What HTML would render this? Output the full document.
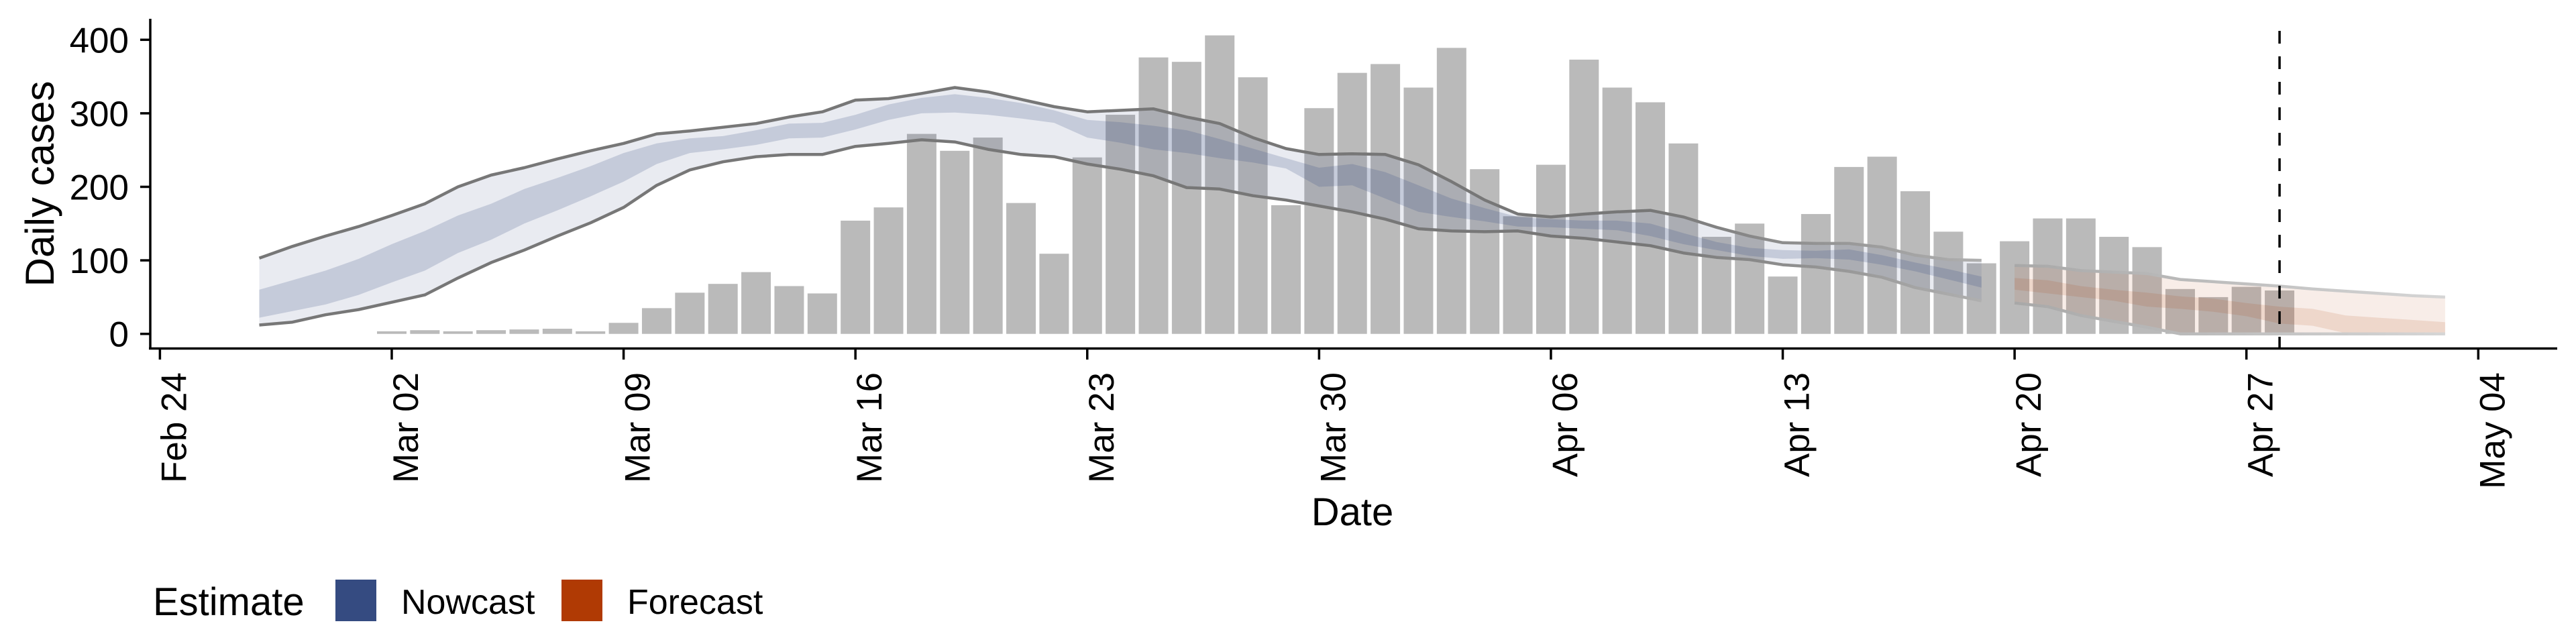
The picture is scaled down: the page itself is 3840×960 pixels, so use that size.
<!DOCTYPE html>
<html><head><meta charset="utf-8"><style>
html,body{margin:0;padding:0;background:#fff;}
svg{display:block;font-family:"Liberation Sans",Arial,sans-serif;}
</style></head><body>
<svg id="chart" width="3840" height="960" viewBox="0 0 3840 960">
<defs>
<linearGradient id="nowLine" gradientUnits="userSpaceOnUse" x1="2460" y1="0" x2="2960" y2="0">
<stop offset="0" stop-color="#777"/><stop offset="1" stop-color="#b0b0b0"/></linearGradient>
<linearGradient id="foreLine" gradientUnits="userSpaceOnUse" x1="3000" y1="0" x2="3650" y2="0">
<stop offset="0" stop-color="#a8a8a8"/><stop offset="1" stop-color="#d6d6d6"/></linearGradient>
</defs>
<g id="bars"></g>
<g id="bands"></g>
<g id="axes"></g>
<g>
<text x="228" y="917" font-size="58">Estimate</text>
<rect x="500" y="864" width="61" height="62" fill="#354B81"/>
<text x="598" y="915" font-size="52">Nowcast</text>
<rect x="837" y="864" width="61" height="62" fill="#B03A04"/>
<text x="935" y="915" font-size="52">Forecast</text>
</g>
</svg>
<script>
// ---- data ----
const barStart = "2020-03-02";
const barValues = [3.5,5,3.5,5,6,7,3.5,15,35,56,68,84,65,55,154,
 172,272,249,267,178,109,240,298,376,370,406,349,175,307,355,
 367,335,389,224,160,230,373,335,315,259,132,150,78,163,227,
 241,194,139,96,126,157,157,132,118,61,50,64,59];
const nowStart = "2020-02-27";
const nowUpper = [103,119,133,146,161,177,200,216,226,238,249,259,272,276,281,286,295,302,318,320,327,
 335,329,319,309,302,304,306,295,286,267,252,244,245,244,230,207,182,163,159,163,166,168,159,145,133,124,
 123,123,118,107,101,100];
const nowLower = [12,16,26,33,43,53,76,97,114,133,151,172,202,223,234,241,244,244,255,259,264,
 261,251,244,241,231,224,215,199,197,188,182,174,166,156,143,140,139,140,133,130,125,120,110,104,101,94,
 91,85,77,63,54,45];
const nowInnerUpper = [60,73,86,102,122,140,161,177,197,212,228,246,259,266,269,277,286,287,298,312,321,
 326,321,314,304,291,288,283,277,265,252,239,226,231,220,202,184,171,159,156,154,154,150,137,125,117,114,
 113,115,107,97,88,78];
const nowInnerLower = [22,31,40,53,70,86,110,128,150,168,187,207,231,246,251,257,266,267,278,291,300,
 301,298,293,287,267,260,251,246,239,233,225,200,202,184,166,159,153,146,145,143,141,133,122,114,106,102,
 103,101,94,85,74,63];
const foreStart = "2020-04-20";
const foreUpper = [93,92,86,84,82,74,71,68,65,61,58,55,52,50];
const foreLower = [42,37,25,17,9,0,0,0,0,0,0,0,0,0];
const foreInnerUpper = [76,73,65,60,56,51,48,42,37,34,25,22,19,16];
const foreInnerLower = [60,55,50,45,37,34,30,24,14,11,1,0,0,0];
const yTicks = [0,100,200,300,400];
const xTickDates = ["2020-02-24","2020-03-02","2020-03-09","2020-03-16","2020-03-23","2020-03-30","2020-04-06","2020-04-13","2020-04-20","2020-04-27","2020-05-04"];
const xTickLabels = ["Feb 24","Mar 02","Mar 09","Mar 16","Mar 23","Mar 30","Apr 06","Apr 13","Apr 20","Apr 27","May 04"];
const forecastDate = "2020-04-28";

// ---- scales ----
const NS = "http://www.w3.org/2000/svg";
const DAY = 86400000, T0 = Date.UTC(2020,1,24);
function dayOf(s){const p=s.split("-");return (Date.UTC(+p[0],+p[1]-1,+p[2])-T0)/DAY;}
function xS(d){return 238.4 + d*49.37;}
function yS(v){return 497.7 - v*1.096;}
function mk(tag, attrs, parent){const e=document.createElementNS(NS,tag);for(const k in attrs)e.setAttribute(k,attrs[k]);parent.appendChild(e);return e;}

const gBars=document.getElementById("bars"), gBands=document.getElementById("bands"), gAx=document.getElementById("axes");
const b0 = dayOf(barStart);
barValues.forEach((v,i)=>{
  const cx=xS(b0+i), w=44;
  const r=mk("rect",{x:cx-w/2,y:yS(v),width:w,height:yS(0)-yS(v),fill:"#bababa"},gBars);
  
  
});

function ribbon(start, up, lo, fill, op, name){
  const d0=dayOf(start);
  let p="M"+up.map((v,i)=>xS(d0+i).toFixed(1)+","+yS(v).toFixed(1)).join("L");
  for(let i=lo.length-1;i>=0;i--) p+="L"+xS(d0+i).toFixed(1)+","+yS(lo[i]).toFixed(1);
  const e=mk("path",{d:p+"Z",fill:fill,"fill-opacity":op},gBands);
  
  
}
function line(start, vals, stroke, name){
  const d0=dayOf(start);
  const e=mk("path",{d:"M"+vals.map((v,i)=>xS(d0+i).toFixed(1)+","+yS(v).toFixed(1)).join("L"),fill:"none",stroke:stroke,"stroke-width":4.5,"stroke-linejoin":"round"},gBands);
  
  
}
ribbon(nowStart,nowUpper,nowLower,"#354B81",0.11,"nowcast-outer-band");
ribbon(nowStart,nowInnerUpper,nowInnerLower,"#354B81",0.2,"nowcast-inner-band");
line(nowStart,nowUpper,"url(#nowLine)","nowcast-upper-line");
line(nowStart,nowLower,"url(#nowLine)","nowcast-lower-line");
ribbon(foreStart,foreUpper,foreLower,"#B03A04",0.09,"forecast-outer-band");
ribbon(foreStart,foreInnerUpper,foreInnerLower,"#B03A04",0.12,"forecast-inner-band");
line(foreStart,foreUpper,"url(#foreLine)","forecast-upper-line");
line(foreStart,foreLower,"url(#foreLine)","forecast-lower-line");

// dashed forecast line
const fx=xS(dayOf(forecastDate));
const dl=mk("line",{x1:fx,y1:46,x2:fx,y2:519,stroke:"#000","stroke-width":3.5,"stroke-dasharray":"19 19"},gAx);



// axes
const ya=mk("line",{x1:224,y1:28,x2:224,y2:521,stroke:"#000","stroke-width":3.5},gAx);


const xa=mk("line",{x1:222,y1:519.5,x2:3812,y2:519.5,stroke:"#000","stroke-width":3.5},gAx);


yTicks.forEach(v=>{
  const t=mk("line",{x1:209,y1:yS(v),x2:224,y2:yS(v),stroke:"#000","stroke-width":3.5},gAx);
  
  
  const l=mk("text",{x:192,y:yS(v)+19,"font-size":53,"text-anchor":"end",fill:"#000"},gAx);
  l.textContent=String(v);
  
  
});
xTickDates.forEach((s,i)=>{
  const x=xS(dayOf(s));
  const t=mk("line",{x1:x,y1:520,x2:x,y2:536,stroke:"#000","stroke-width":3.5},gAx);
  
  
  const l=mk("text",{x:0,y:0,"font-size":53,"text-anchor":"end",fill:"#000",transform:"translate("+(x+39)+",555) rotate(-90)"},gAx);
  l.textContent=xTickLabels[i];
  
  
});
const xt=mk("text",{x:2016,y:783,"font-size":58,"text-anchor":"middle",fill:"#000"},gAx);
xt.textContent="Date";


const yt=mk("text",{x:0,y:0,"font-size":60,"text-anchor":"middle",fill:"#000",transform:"translate(80,274) rotate(-90)"},gAx);
yt.textContent="Daily cases";


</script>
</body></html>
